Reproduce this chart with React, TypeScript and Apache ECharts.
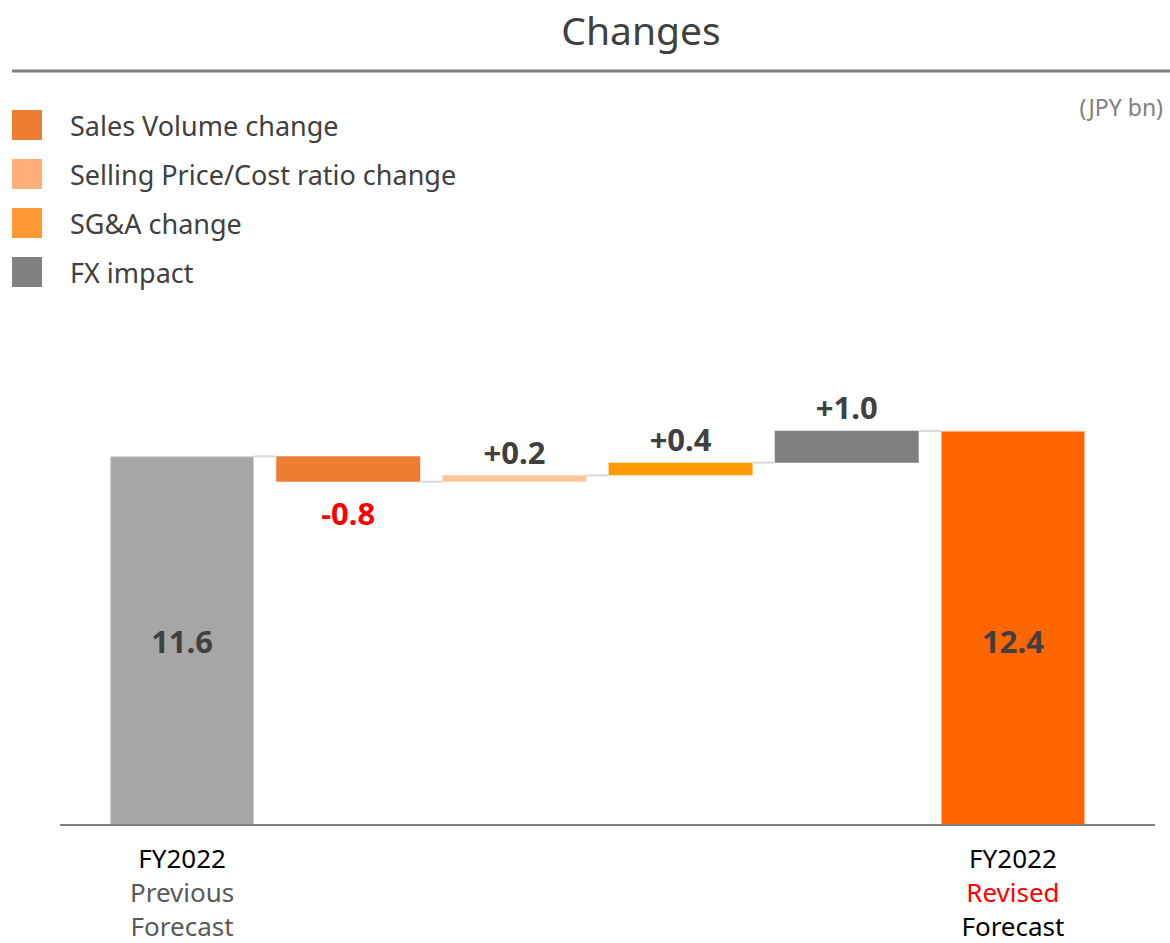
import React, { useEffect, useRef } from "react";
import * as echarts from "echarts";

const categories = ["FY2022 Previous Forecast", "Sales Volume change", "Selling Price/Cost ratio change", "SG&A change", "FX impact", "FY2022 Revised Forecast"];
const startValue = 11.6;
const changeNames = ["Sales Volume change", "Selling Price/Cost ratio change", "SG&A change", "FX impact"];
const changeValues = [-0.8, 0.2, 0.4, 1.0];
const endValue = 12.4;
const changeColors = ["#ed7d31", "#ffc69c", "#ff9900", "#808080"];
const legendColors = ["#ed7d31", "#ffb07a", "#ff9933", "#808080"];
const totalColors = ["#a6a6a6", "#ff6600"];

const FONT = "'Noto Sans', 'Open Sans', sans-serif";

export default function App() {
  const ref = useRef<HTMLDivElement>(null);
  useEffect(() => {
    if (!ref.current) return;
    const chart = echarts.init(ref.current, null, { renderer: "svg" });

    const n = categories.length;
    const base: (number | string)[] = new Array(n).fill("-");
    const levels: number[] = [startValue];
    let running = startValue;
    changeValues.forEach((v, i) => {
      const next = running + v;
      base[i + 1] = Math.min(running, next);
      running = next;
      levels.push(running);
    });

    const changeSeries = changeNames.map((name, i) => {
      const data: any[] = new Array(n).fill("-");
      const v = changeValues[i];
      data[i + 1] = {
        value: Math.abs(v),
        label: {
          show: true,
          position: v < 0 ? "bottom" : "top",
          distance: v < 0 ? 16 : 8,
          formatter: (v > 0 ? "+" : "") + v.toFixed(1),
          color: v < 0 ? "#ff0000" : "#404040",
          fontSize: 31,
          fontWeight: "bold",
          fontFamily: FONT,
        },
      };
      return {
        name,
        type: "bar",
        stack: "wf",
        barWidth: 144,
        itemStyle: { color: changeColors[i] },
        data,
      };
    });

    const totalsData: any[] = new Array(n).fill("-");
    totalsData[0] = { value: startValue, itemStyle: { color: totalColors[0], borderColor: "#d0d0d0", borderWidth: 1 } };
    totalsData[n - 1] = {
      value: endValue,
      itemStyle: { color: totalColors[1], borderColor: "#ffb380", borderWidth: 1 },
      label: { offset: [0, 13] },
    };

    const connectorData = levels.map((lv, i) => [i, lv]);

    chart.setOption({
      animation: false,
      title: [
        {
          text: "Changes",
          left: 636,
          textAlign: "center",
          top: 5,
          textStyle: { fontSize: 39, fontWeight: "normal", color: "#404040", fontFamily: FONT },
        },
        {
          text: "(JPY bn)",
          right: 2,
          top: 90,
          textStyle: { fontSize: 23, fontWeight: "normal", color: "#808080", fontFamily: FONT },
        },
      ],
      legend: {
        orient: "vertical",
        left: 12,
        top: 110,
        padding: 0,
        itemWidth: 30,
        itemHeight: 30,
        itemGap: 19,
        icon: "rect",
        selectedMode: false,
        textStyle: { fontSize: 27, color: "#404040", fontFamily: FONT, padding: [0, 0, 0, 23] },
        data: changeNames.map((name, i) => ({ name, itemStyle: { color: legendColors[i] } })),
      },
      grid: { left: 99, right: 74, top: 380, bottom: 118, outerBoundsMode: "none", containLabel: false },
      xAxis: {
        type: "category",
        data: categories,
        axisLine: { show: false },
        axisTick: { show: false },
        axisLabel: {
          interval: 0,
          margin: 16,
          fontFamily: FONT,
          fontSize: 26,
          lineHeight: 34,
          formatter: (_v: string, idx: number) => {
            if (idx === 0) return "{k|FY2022}\n{g|Previous}\n{g|Forecast}";
            if (idx === n - 1) return "{k|FY2022}\n{r|Revised}\n{k|Forecast}";
            return "";
          },
          rich: {
            k: { color: "#000000", fontSize: 26, lineHeight: 34, fontFamily: FONT },
            g: { color: "#595959", fontSize: 26, lineHeight: 34, fontFamily: FONT },
            r: { color: "#ff0000", fontSize: 26, lineHeight: 34, fontFamily: FONT },
          },
        },
      },
      yAxis: { type: "value", min: 0, max: 14, show: false, splitLine: { show: false } },
      series: [
        {
          name: "base",
          type: "bar",
          stack: "wf",
          barWidth: 144,
          itemStyle: { color: "transparent" },
          emphasis: { disabled: true },
          data: base,
        },
        ...changeSeries,
        {
          name: "totals",
          type: "bar",
          stack: "wf",
          barWidth: 144,
          label: {
            show: true,
            position: "inside",
            formatter: (p: any) => p.value.toFixed(1),
            color: "#404040",
            fontSize: 31,
            fontWeight: "bold",
            fontFamily: FONT,
          },
          data: totalsData,
        },
        {
          name: "connectors",
          type: "custom",
          z: 1,
          data: connectorData.slice(0, n - 1),
          renderItem: (params: any, api: any) => {
            const i = api.value(0);
            const lv = api.value(1);
            const p1 = api.coord([i, lv]);
            const p2 = api.coord([i + 1, lv]);
            const half = 72;
            return {
              type: "line",
              shape: { x1: p1[0] + half, y1: p1[1], x2: p2[0] - half, y2: p2[1] },
              style: { stroke: "#d9d9d9", lineWidth: 2 },
            };
          },
        },
      ],
      graphic: [
        { type: "line", shape: { x1: 12, y1: 71, x2: 1170, y2: 71 }, style: { stroke: "#808080", lineWidth: 3 } },
        { type: "line", z: 100, shape: { x1: 60, y1: 825, x2: 1155, y2: 825 }, style: { stroke: "#7f7f7f", lineWidth: 2 } },
      ],
    });
    return () => chart.dispose();
  }, []);
  return <div ref={ref} style={{ position: "absolute", left: 0, top: 0, width: 1170, height: 943 }} />;
}
